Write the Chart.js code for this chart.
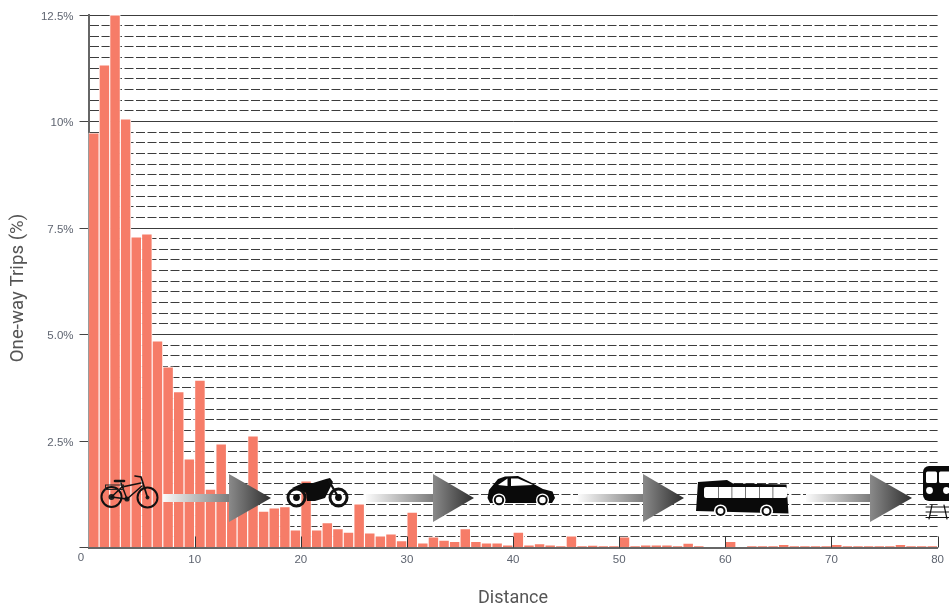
<!DOCTYPE html>
<html>
<head>
<meta charset="utf-8">
<title>One-way trips by distance</title>
<script src="https://cdn.jsdelivr.net/npm/chart.js@4"></script>
<style>
  html, body { margin: 0; padding: 0; background: #fff; overflow: hidden; }
  /* the original is a slightly soft raster */
  canvas { display: block; filter: blur(0.4px); }
</style>
</head>
<body>
<canvas id="trips-chart" width="949" height="604"></canvas>
<script>
// --- DATA ---
const distanceBins = [
  0.5, 1.5, 2.5, 3.5, 4.5, 5.5, 6.5, 7.5, 8.5, 9.5,
  10.5, 11.5, 12.5, 13.5, 14.5, 15.5, 16.5, 17.5, 18.5, 19.5,
  20.5, 21.5, 22.5, 23.5, 24.5, 25.5, 26.5, 27.5, 28.5, 29.5,
  30.5, 31.5, 32.5, 33.5, 34.5, 35.5, 36.5, 37.5, 38.5, 39.5,
  40.5, 41.5, 42.5, 43.5, 44.5, 45.5, 46.5, 47.5, 48.5, 49.5,
  50.5, 51.5, 52.5, 53.5, 54.5, 55.5, 56.5, 57.5, 58.5, 59.5,
  60.5, 61.5, 62.5, 63.5, 64.5, 65.5, 66.5, 67.5, 68.5, 69.5,
  70.5, 71.5, 72.5, 73.5, 74.5, 75.5, 76.5, 77.5, 78.5, 79.5
];
const tripShare = [
  9.73, 11.33, 12.5, 10.06, 7.29, 7.36, 4.85, 4.24, 3.66, 2.08,
  3.93, 1.37, 2.43, 1.25, 1.3, 2.62, 0.85, 0.93, 0.96, 0.41,
  1.56, 0.41, 0.58, 0.44, 0.36, 1.02, 0.34, 0.27, 0.32, 0.16,
  0.83, 0.11, 0.25, 0.17, 0.14, 0.44, 0.14, 0.11, 0.11, 0.06,
  0.36, 0.06, 0.09, 0.06, 0.03, 0.27, 0.03, 0.05, 0.03, 0.03,
  0.25, 0.035, 0.06, 0.06, 0.06, 0.035, 0.1, 0.035, 0, 0,
  0.14, 0, 0.035, 0.035, 0.035, 0.07, 0.03, 0.03, 0.03, 0.03,
  0.07, 0.03, 0.03, 0.03, 0.03, 0.03, 0.07, 0.03, 0.03, 0.03
];
const yMajorTicks = [2.5, 5, 7.5, 10, 12.5];
const yTickLabels = ['2.5%', '5.0%', '7.5%', '10%', '12.5%'];
const xTickLabels = [10, 20, 30, 40, 50, 60, 70, 80];

const TICK_FONT = { family: '"Liberation Sans", sans-serif', size: 11.5 };
const TITLE_FONT = { family: '"Roboto", sans-serif', size: 18, lineHeight: 1 };
const TEXT_COLOR = '#5e6470';

// --- ICON HELPERS ---
function poly(ctx, pts, fill) {
  ctx.beginPath();
  pts.forEach((p, i) => i ? ctx.lineTo(p[0], p[1]) : ctx.moveTo(p[0], p[1]));
  ctx.closePath();
  ctx.fillStyle = fill;
  ctx.fill();
}

function disc(ctx, x, y, r, fill) {
  ctx.beginPath();
  ctx.arc(x, y, r, 0, Math.PI * 2);
  ctx.fillStyle = fill;
  ctx.fill();
}

function stroke(ctx, pts, width) {
  ctx.beginPath();
  pts.forEach((p, i) => i ? ctx.lineTo(p[0], p[1]) : ctx.moveTo(p[0], p[1]));
  ctx.lineWidth = width;
  ctx.strokeStyle = '#111';
  ctx.stroke();
}

function ring(ctx, x, y, r, width) {
  ctx.beginPath();
  ctx.arc(x, y, r, 0, Math.PI * 2);
  ctx.lineWidth = width;
  ctx.strokeStyle = '#111';
  ctx.stroke();
}

function drawArrow(ctx, start, base, tip) {
  const cy = 498;
  let g = ctx.createLinearGradient(start, 0, base, 0);
  g.addColorStop(0, '#fbfbfb');
  g.addColorStop(1, '#7c7c7c');
  ctx.fillStyle = g;
  ctx.fillRect(start, cy - 4, base - start, 8);
  g = ctx.createLinearGradient(base, 0, tip, 0);
  g.addColorStop(0, '#8a8a8a');
  g.addColorStop(1, '#2e2e2e');
  poly(ctx, [[base, cy - 24], [tip, cy], [base, cy + 24]], g);
}

function drawBike(ctx) {
  ring(ctx, 111.5, 497, 10, 2);
  ring(ctx, 147.5, 497.5, 10, 2);
  disc(ctx, 111.5, 497, 3, '#222');
  disc(ctx, 147.5, 497.5, 2, '#222');
  disc(ctx, 127, 499, 2.6, '#222');
  stroke(ctx, [[111.5, 497], [127, 499], [121, 483]], 1.5);
  stroke(ctx, [[111.5, 497], [122, 487], [141, 483]], 1.5);
  stroke(ctx, [[127, 499], [142, 486]], 1.6);
  stroke(ctx, [[147.5, 497.5], [142, 480], [141, 477], [135, 476]], 1.7);
  stroke(ctx, [[115, 481], [124, 481]], 2.6);
  ctx.lineWidth = 1;
  ctx.strokeStyle = '#222';
  ctx.strokeRect(105.5, 485, 18, 4.5);
}

function drawMotorbike(ctx) {
  const body = [[292, 488], [303, 483], [313, 483], [326, 479], [330, 478], [333, 482], [330, 488],
    [325, 498], [315, 501], [307, 501], [306, 493], [300, 490]];
  poly(ctx, body, '#0c0c0c');
  stroke(ctx, [[329, 481], [338.5, 497.5]], 2.2);
  ring(ctx, 296.5, 497.5, 8.5, 3);
  ring(ctx, 338.5, 497.5, 8.5, 3);
  disc(ctx, 296.5, 497.5, 3.4, '#0c0c0c');
  disc(ctx, 338.5, 497.5, 3.4, '#0c0c0c');
}

function drawCar(ctx) {
  const body = [[487.5, 498], [489, 490], [498, 479], [505, 476.5], [518, 476], [530, 482], [543, 489],
    [552.5, 491.5], [555, 498], [552, 503], [490, 503]];
  poly(ctx, body, '#0a0a0a');
  poly(ctx, [[498, 485], [507.5, 478.5], [507.5, 486]], '#fff');
  poly(ctx, [[511, 478.5], [518, 478.5], [533, 485], [511, 486]], '#fff');
  [499, 542.5].forEach(x => {
    disc(ctx, x, 500, 6.6, '#fff');
    disc(ctx, x, 500, 5.2, '#0a0a0a');
    disc(ctx, x, 500, 3.2, '#fff');
  });
}

function drawBus(ctx) {
  const body = [[698, 482], [727, 480], [733, 483.5], [786.5, 484.5], [788.5, 513.5], [696, 511]];
  poly(ctx, body, '#0a0a0a');
  ctx.fillStyle = '#fff';
  ctx.beginPath();
  ctx.roundRect(704, 487, 83, 11, 2);
  ctx.fill();
  ctx.fillStyle = '#555';
  [718, 731.5, 745, 759, 772.5].forEach(x => ctx.fillRect(x, 487, 0.8, 11));
  [720.5, 766.5].forEach(x => {
    disc(ctx, x, 511, 6.6, '#fff');
    disc(ctx, x, 511, 5, '#0a0a0a');
    disc(ctx, x, 511, 3, '#fff');
  });
}

function drawTrain(ctx) {
  ctx.fillStyle = '#0a0a0a';
  ctx.beginPath();
  ctx.roundRect(923, 466, 33, 35, 6);
  ctx.fill();
  ctx.fillStyle = '#fff';
  ctx.beginPath();
  ctx.roundRect(926, 471.5, 11, 11.5, 1.5);
  ctx.roundRect(939, 471.5, 11, 11.5, 1.5);
  ctx.fill();
  disc(ctx, 929.5, 490.5, 3.4, '#fff');
  disc(ctx, 946.5, 490.5, 3.4, '#fff');
  stroke(ctx, [[932, 505], [929, 519]], 1.2);
  stroke(ctx, [[944, 505], [947, 519]], 1.2);
  [507, 512, 517.5].forEach(y => stroke(ctx, [[926, y], [950, y]], 1));
}

// --- DECORATIONS ---
const overlayPlugin = {
  id: 'overlay',
  afterDatasetsDraw(chart) {
    const { ctx, scales } = chart;
    const axisY = scales.y.getPixelForValue(0);
    ctx.save();
    // inward tick marks sit on top of the bars
    ctx.strokeStyle = '#333';
    ctx.lineWidth = 1;
    xTickLabels.forEach(v => {
      const x = Math.round(scales.x.getPixelForValue(v)) + 0.5;
      ctx.beginPath();
      ctx.moveTo(x, axisY);
      ctx.lineTo(x, axisY - 11);
      ctx.stroke();
    });
    ctx.lineCap = 'round';
    drawBike(ctx);
    drawMotorbike(ctx);
    drawCar(ctx);
    drawBus(ctx);
    drawTrain(ctx);
    ctx.lineCap = 'butt';
    drawArrow(ctx, 163, 229, 271);
    drawArrow(ctx, 366, 433, 474);
    drawArrow(ctx, 578, 643, 684);
    drawArrow(ctx, 806, 870, 912);
    // the zero label hangs left of the axis in the original
    ctx.font = `${TICK_FONT.size}px ${TICK_FONT.family}`;
    ctx.fillStyle = TEXT_COLOR;
    ctx.textAlign = 'center';
    ctx.textBaseline = 'top';
    ctx.fillText('0', scales.x.getPixelForValue(0) - 7.5, axisY + 5);
    // y title sits a little below the middle of the axis
    ctx.translate(18, 288);
    ctx.rotate(-Math.PI / 2);
    ctx.font = `18.7px ${TITLE_FONT.family}`;
    ctx.fillStyle = '#555';
    ctx.textBaseline = 'middle';
    ctx.fillText('One-way Trips (%)', 0, 0);
    ctx.restore();
  }
};

// --- CHART ---
const isMajor = v => yMajorTicks.includes(v);

new Chart(document.getElementById('trips-chart').getContext('2d'), {
  type: 'bar',
  data: {
    datasets: [{
      data: distanceBins.map((x, i) => ({ x, y: tripShare[i] })),
      backgroundColor: '#f67c68',
      borderColor: '#fff',
      borderWidth: 0.9,
      borderSkipped: 'bottom',
      barPercentage: 1,
      categoryPercentage: 1
    }]
  },
  options: {
    responsive: false,
    animation: false,
    layout: { padding: { top: 15, right: 11, bottom: 0, left: 0 } },
    plugins: { legend: { display: false }, tooltip: { enabled: false } },
    scales: {
      x: {
        type: 'linear',
        offset: false,
        min: 0,
        max: 80,
        afterFit: s => { s.height = 56.5; },
        grid: { display: false, drawTicks: false, offset: false },
        border: { color: '#666', width: 2 },
        ticks: {
          stepSize: 10,
          padding: 5,
          maxRotation: 0,
          autoSkip: false,
          font: TICK_FONT,
          color: TEXT_COLOR,
          callback: v => (v === 0 ? '' : v)
        },
        title: {
          display: true,
          text: 'Distance',
          font: TITLE_FONT,
          color: '#555',
          padding: { top: 0, bottom: -3 }
        }
      },
      y: {
        min: 0,
        max: 12.5,
        afterFit: s => { s.width = 88.5; },
        afterBuildTicks: s => {
          // one tick per 0.25 so the dashed rules stay exact
          s.ticks = Array.from({ length: 51 }, (_, i) => ({ value: i / 4 }));
        },
        grid: {
          color: '#3c3c3c',
          lineWidth: 1,
          tickLength: 9,
          tickColor: '#444',
          tickWidth: c => (c.tick && (c.tick.value === 0 || isMajor(c.tick.value)) ? 1 : 0)
        },
        border: {
          color: '#666',
          width: 2,
          dash: c => (c.tick && isMajor(c.tick.value) ? [] : [9, 2.5])
        },
        ticks: {
          padding: 6,
          labelOffset: 1.5,
          autoSkip: false,
          font: TICK_FONT,
          color: TEXT_COLOR,
          callback: v => (isMajor(v) ? yTickLabels[yMajorTicks.indexOf(v)] : ''),
          includeBounds: true
        }
      }
    }
  },
  plugins: [overlayPlugin]
});
</script>
</body>
</html>
